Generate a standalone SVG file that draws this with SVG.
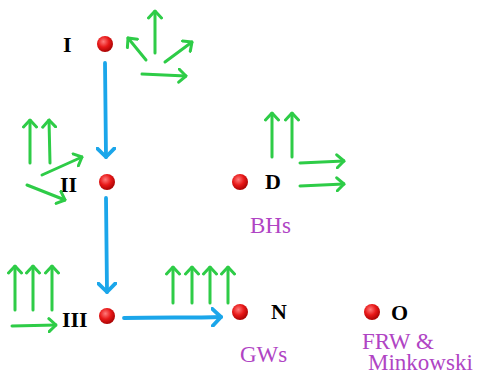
<svg xmlns="http://www.w3.org/2000/svg" width="481" height="376" viewBox="0 0 481 376">
<defs>
<radialGradient id="dot" cx="0.4" cy="0.35" r="0.7">
<stop offset="0" stop-color="#ff7a7a"/>
<stop offset="0.5" stop-color="#e81818"/>
<stop offset="1" stop-color="#a00000"/>
</radialGradient>
<marker id="ga" markerUnits="userSpaceOnUse" viewBox="0 0 10 16" refX="8.5" refY="8" markerWidth="10" markerHeight="16" orient="auto">
<path d="M1.5,1.5 L8.5,8 L1.5,14.5" fill="none" stroke="#2ecc47" stroke-width="3" stroke-linecap="round" stroke-linejoin="round"/>
</marker>
<marker id="ba" markerUnits="userSpaceOnUse" viewBox="0 0 12 20" refX="10" refY="10" markerWidth="12" markerHeight="20" orient="auto">
<path d="M1.5,1.5 L10,10 L1.5,18.5" fill="none" stroke="#1ba6ea" stroke-width="3.8" stroke-linecap="round" stroke-linejoin="round"/>
</marker>
</defs>
<style>
.g{fill:none;stroke:#2ecc47;stroke-width:3;stroke-linecap:round;marker-end:url(#ga)}
.b{fill:none;stroke:#1ba6ea;stroke-width:3.8;stroke-linecap:round;marker-end:url(#ba)}
.lab{font-family:"Liberation Serif",serif;font-weight:bold;font-size:22px;fill:#000}
.pl{font-family:"Liberation Serif",serif;font-size:23px;fill:#b044c4}
</style>
<rect width="481" height="376" fill="#fff"/>
<g id="connectors">
<path class="b" d="M105,63 L106,157"/>
<path class="b" d="M106,198 L107,292"/>
<path class="b" d="M124,318 C160,317 190,318 221,317"/>
</g>
<g id="node-I">
<circle cx="105" cy="44" r="8" fill="url(#dot)"/>
<text class="lab" x="63" y="52">I</text>
<path class="g" d="M155,53 L155,11"/>
<path class="g" d="M146,60 L128,38"/>
<path class="g" d="M165,62 L192,42"/>
<path class="g" d="M142,74 L186,76"/>
</g>
<g id="node-II">
<circle cx="107" cy="182" r="8" fill="url(#dot)"/>
<text class="lab" x="60" y="192">II</text>
<path class="g" d="M30,163 L30,120"/>
<path class="g" d="M50,163 L49,120"/>
<path class="g" d="M42,175 L82,157"/>
<path class="g" d="M27,185 L65,200"/>
</g>
<g id="node-D">
<circle cx="240" cy="182" r="8" fill="url(#dot)"/>
<text class="lab" x="265" y="189">D</text>
<path class="g" d="M272,157 L272,113"/>
<path class="g" d="M292,157 L292,113"/>
<path class="g" d="M300,163 L344,161"/>
<path class="g" d="M300,186 L344,184"/>
<text class="pl" x="250" y="233">BHs</text>
</g>
<g id="node-III">
<circle cx="107" cy="316" r="8" fill="url(#dot)"/>
<text class="lab" x="62" y="327">III</text>
<path class="g" d="M15,310 L15,266"/>
<path class="g" d="M33,310 L33,266"/>
<path class="g" d="M52,310 L52,266"/>
<path class="g" d="M12,326 L56,325"/>
</g>
<g id="node-N">
<circle cx="240" cy="312" r="8" fill="url(#dot)"/>
<text class="lab" x="271" y="319">N</text>
<path class="g" d="M173,303 L173,267"/>
<path class="g" d="M192,303 L192,267"/>
<path class="g" d="M210,303 L210,267"/>
<path class="g" d="M228,303 L228,267"/>
<text class="pl" x="240" y="362">GWs</text>
</g>
<g id="node-O">
<circle cx="372" cy="312" r="8" fill="url(#dot)"/>
<text class="lab" x="391" y="320">O</text>
<text class="pl" x="362" y="349">FRW &amp;</text>
<text class="pl" x="368" y="370">Minkowski</text>
</g>
</svg>
